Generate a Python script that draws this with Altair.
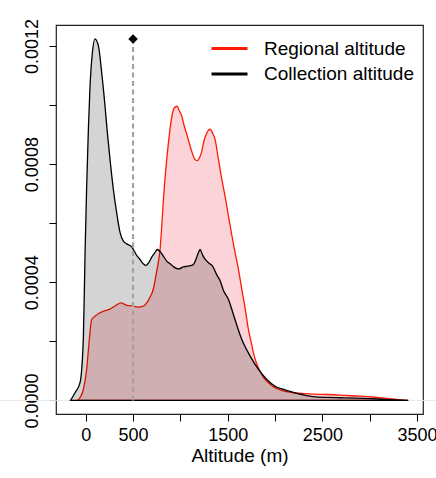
import altair as alt
import pandas as pd

# Collection altitude density (black)
col_alt = [-160, -113, -60, -25, -7, 10, 28, 45, 70, 98, 134, 169, 204, 229, 257, 292, 327,
           363, 398, 433, 486, 540, 574, 610, 637, 665, 697, 730, 757, 790, 821, 860, 891,
           930, 979, 1032, 1067, 1103, 1137, 1165, 1190, 1208, 1235, 1261, 1300, 1340, 1385,
           1420, 1455, 1508, 1560, 1649, 1737, 1825, 1913, 2001, 2080, 2142, 2220, 2283,
           2350, 2424, 2550, 2670, 2850, 3023, 3200, 3407]
col_den = [0, 0.000026, 0.00006, 0.00021, 0.0005, 0.000725, 0.000917, 0.00106, 0.001176,
           0.001224, 0.0012, 0.001109, 0.000996, 0.000905, 0.000815, 0.000714, 0.000635,
           0.000568, 0.000539, 0.00053, 0.00052, 0.00049, 0.000477, 0.000462, 0.000457,
           0.000466, 0.000485, 0.0005, 0.000511, 0.000502, 0.000488, 0.00047, 0.000463,
           0.000452, 0.000445, 0.000452, 0.000454, 0.000456, 0.00046, 0.000478, 0.0005,
           0.000511, 0.000492, 0.000478, 0.000465, 0.000455, 0.000425, 0.000405, 0.000372,
           0.000342, 0.000291, 0.000206, 0.00015, 0.000105, 0.000071, 0.000048, 0.000038,
           0.000032, 0.000025, 0.00002, 0.000015, 0.000012, 0.00001, 0.000009, 0.000008,
           0.000006, 0.000003, 0]

# Regional altitude density (red)
reg_alt = [-89, -60, -25, 10, 38, 63, 98, 140, 186, 257, 320, 370, 433, 486, 550, 600, 644,
           680, 715, 740, 768, 785, 803, 821, 848, 873, 909, 935, 965, 990, 1015, 1040, 1067,
           1095, 1120, 1150, 1178, 1200, 1226, 1250, 1272, 1295, 1314, 1340, 1367, 1400, 1438,
           1473, 1508, 1543, 1578, 1614, 1649, 1685, 1719, 1746, 1772, 1805, 1842, 1885, 1930,
           1990, 2054, 2120, 2200, 2283, 2400, 2565, 2741, 2850, 2987, 3100, 3200, 3300, 3407]
reg_den = [0, 0.00001, 0.000037, 0.000105, 0.000206, 0.000274, 0.000285, 0.000295, 0.000302,
           0.000309, 0.000322, 0.00033, 0.000322, 0.00032, 0.000316, 0.000318, 0.00033,
           0.00035, 0.000378, 0.00042, 0.00047, 0.00051, 0.00059, 0.00068, 0.00079, 0.00087,
           0.00096, 0.00099, 0.000996, 0.00098, 0.000962, 0.00093, 0.000902, 0.00087,
           0.000843, 0.000818, 0.000812, 0.00082, 0.000843, 0.00088, 0.0009, 0.000914,
           0.000918, 0.000905, 0.000883, 0.00082, 0.000748, 0.00069, 0.000624, 0.00056,
           0.0005, 0.000443, 0.000376, 0.00031, 0.00024, 0.0002, 0.000161, 0.000125, 0.000099,
           0.000075, 0.00006, 0.000045, 0.000036, 0.00003, 0.000026, 0.000024, 0.000021,
           0.00002, 0.000017, 0.000015, 0.000013, 0.000009, 0.000006, 0.000003, 0]

series_names = ["Regional altitude", "Collection altitude"]
series_colors = ["#ff1a00", "#000000"]

marker_alt = [500]
marker_den = [0.001224]

x_ticks = [0, 500, 1000, 1500, 2000, 2500, 3000, 3500]
x_labeled = [0, 500, 1500, 2500, 3500]
y_ticks = [0, 0.0002, 0.0004, 0.0006, 0.0008, 0.001, 0.0012]
y_labeled = ["0.0000", "0.0004", "0.0008", "0.0012"]

FONT = "Liberation Sans"

reg_df = pd.DataFrame({"alt": reg_alt, "den": reg_den, "series": series_names[0]})
col_df = pd.DataFrame({"alt": col_alt, "den": col_den, "series": series_names[1]})
mark_df = pd.DataFrame({"alt": marker_alt, "den": marker_den, "zero": [0]})
base_df = pd.DataFrame({"zero": [0]})

xscale = alt.Scale(domain=[-314, 3563], nice=False, zero=False)
yscale = alt.Scale(domain=[-0.000046, 0.001271], nice=False, zero=False)

x_keep = " || ".join(f"datum.value == {v}" for v in x_labeled)
y_keep = " || ".join(f"datum.label == '{v}'" for v in y_labeled)

xaxis = alt.Axis(values=x_ticks, labelExpr=f"({x_keep}) ? datum.label : ''",
                 format="d", labelFlush=False, labelOverlap=False, title="Altitude (m)",
                 titleBaseline="alphabetic", titleY=47, titleFontSize=19,
                 titleFontWeight="normal", titleFont=FONT, titleColor="black",
                 labelPadding=5)
yaxis = alt.Axis(values=y_ticks, format=".4f", labelExpr=f"({y_keep}) ? datum.label : ''",
                 labelOverlap=False, labelFlush=False, title=None, labelAngle=270,
                 labelAlign="center", labelBaseline="alphabetic", labelPadding=12)

stroke_scale = alt.Scale(domain=series_names, range=series_colors)
legend = alt.Legend(title=None, orient="none", legendX=163, legendY=13,
                    symbolType="M-2,0H2", symbolSize=324, symbolStrokeWidth=3,
                    labelFontSize=19, labelFont=FONT, labelColor="black",
                    labelOffset=24, rowPadding=4.5, padding=0, symbolOpacity=1,
                    symbolFillColor="transparent", labelLimit=300)

baseline_rule = alt.Chart(base_df).mark_rule(color="#e6e6e6", strokeWidth=1, clip=False).encode(
    y=alt.Y("zero:Q", scale=yscale, axis=yaxis),
    x=alt.value(-56), x2=alt.value(380)
)

reg_area = alt.Chart(reg_df).mark_area(
    interpolate="monotone", fill="#fbd3d8", fillOpacity=1, strokeWidth=1.3, strokeOpacity=1
).encode(
    x=alt.X("alt:Q", scale=xscale, axis=xaxis),
    y=alt.Y("den:Q", scale=yscale, axis=yaxis),
    stroke=alt.Stroke("series:N", scale=stroke_scale, legend=legend),
)

col_area = alt.Chart(col_df).mark_area(
    interpolate="monotone", fill="#000000", fillOpacity=0.17, strokeWidth=1.3, strokeOpacity=1
).encode(
    x=alt.X("alt:Q", scale=xscale, axis=xaxis),
    y=alt.Y("den:Q", scale=yscale, axis=yaxis),
    stroke=alt.Stroke("series:N", scale=stroke_scale, legend=legend),
)

vline = alt.Chart(mark_df).mark_rule(color="#a3a3a3", strokeWidth=2.2, strokeDash=[5, 3.5]).encode(
    x=alt.X("alt:Q", scale=xscale),
    y=alt.Y("zero:Q", scale=yscale),
    y2="den:Q",
)

diamond = alt.Chart(mark_df).mark_point(shape="diamond", filled=True, color="black",
                                        size=90, opacity=1).encode(
    x=alt.X("alt:Q", scale=xscale),
    y=alt.Y("den:Q", scale=yscale),
)

chart = alt.layer(baseline_rule, reg_area, col_area, vline, diamond).properties(
    width=367, height=389,
    autosize=alt.AutoSizeParams(type="none"),
    padding={"left": 56, "top": 25, "right": 13, "bottom": 64},
    title=alt.TitleParams(text="Altitude (m)", fontSize=22, fontWeight="bold", font=FONT,
                          anchor="middle", frame="group", baseline="alphabetic", offset=22,
                          color="black"),
    background="white",
).configure_view(
    stroke="#222222", strokeWidth=1.2
).configure_axis(
    labelFont=FONT, labelFontSize=18, labelColor="black", tickColor="black",
    tickWidth=1, tickSize=7, domain=False, grid=False,
)

chart.save("out.html", embed_options={"renderer": "svg", "actions": False})
